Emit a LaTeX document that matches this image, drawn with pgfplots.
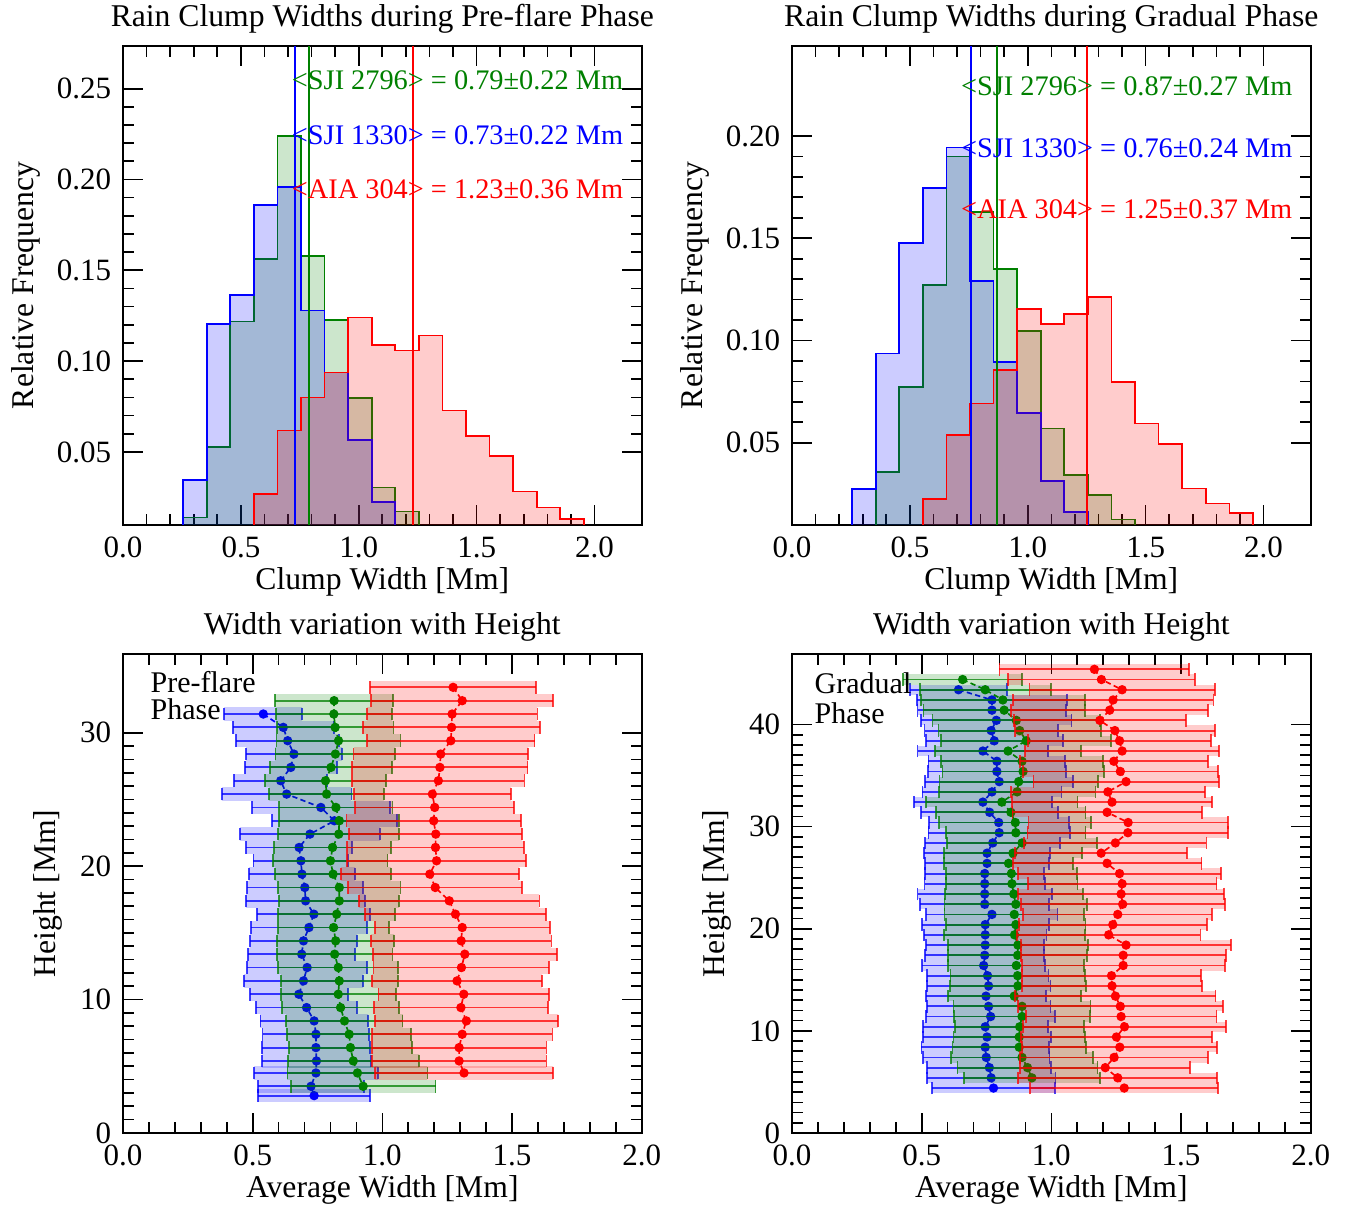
\documentclass[border=0pt]{standalone}
\usepackage{fontspec}
\setmainfont{Liberation Serif}
\usepackage{pgfplots}
\usepackage{pgfplotstable}
\pgfplotsset{compat=1.18}

\definecolor{mgreen}{RGB}{0,128,0}
\definecolor{mblue}{RGB}{0,0,255}
\definecolor{mred}{RGB}{255,0,0}

\newcommand{\lab}{\fontsize{9.5}{11}\selectfont}
\newcommand{\tck}{\fontsize{9.3}{11}\selectfont}
\newcommand{\ann}{\fontsize{8.5}{10}\selectfont}
\newcommand{\phs}{\fontsize{9}{10}\selectfont}

% ---------- Pre-flare profiles ----------
\pgfplotstableread{
h m s
31.4 0.541 0.150
30.4 0.618 0.195
29.4 0.635 0.199
28.4 0.659 0.186
27.4 0.647 0.177
26.4 0.608 0.180
25.4 0.631 0.250
24.4 0.763 0.267
23.4 0.815 0.242
22.4 0.721 0.270
21.4 0.679 0.204
20.4 0.686 0.183
19.4 0.690 0.205
18.4 0.701 0.224
17.4 0.704 0.229
16.4 0.736 0.218
15.4 0.717 0.224
14.4 0.696 0.207
13.4 0.689 0.207
12.4 0.710 0.231
11.4 0.696 0.229
10.4 0.678 0.188
9.4 0.708 0.194
8.4 0.737 0.207
7.4 0.744 0.206
6.4 0.744 0.207
5.4 0.746 0.210
4.5 0.744 0.239
3.5 0.725 0.203
2.8 0.737 0.216
}\PFb
\pgfplotstableread{
h m s
32.4 0.814 0.227
31.4 0.813 0.223
30.4 0.818 0.225
29.4 0.831 0.239
28.4 0.819 0.231
27.4 0.802 0.234
26.4 0.781 0.232
25.4 0.785 0.221
24.4 0.821 0.218
23.4 0.834 0.231
22.4 0.832 0.233
21.4 0.808 0.225
20.4 0.800 0.220
19.4 0.810 0.224
18.4 0.834 0.236
17.4 0.834 0.231
16.4 0.824 0.225
15.4 0.812 0.215
14.4 0.820 0.225
13.4 0.816 0.223
12.4 0.830 0.231
11.4 0.834 0.225
10.4 0.830 0.222
9.4 0.839 0.226
8.4 0.854 0.224
7.4 0.872 0.240
6.4 0.877 0.236
5.4 0.888 0.252
4.5 0.904 0.270
3.5 0.926 0.279
}\PFg
\pgfplotstableread{
h m s
33.4 1.273 0.320
32.4 1.308 0.351
31.4 1.269 0.329
30.4 1.267 0.342
29.4 1.264 0.323
28.4 1.225 0.336
27.4 1.222 0.338
26.4 1.216 0.332
25.4 1.193 0.302
24.4 1.202 0.306
23.4 1.198 0.336
22.4 1.206 0.333
21.4 1.205 0.342
20.4 1.209 0.344
19.4 1.183 0.344
18.4 1.204 0.335
17.4 1.258 0.348
16.4 1.282 0.349
15.4 1.308 0.337
14.4 1.304 0.348
13.4 1.318 0.355
12.4 1.305 0.339
11.4 1.288 0.327
10.4 1.314 0.329
9.4 1.303 0.335
8.4 1.324 0.353
7.4 1.308 0.348
6.4 1.296 0.337
5.4 1.296 0.337
4.5 1.315 0.342
}\PFr

% ---------- Gradual profiles ----------
\pgfplotstableread{
h m s
43.4 0.642 0.187
42.4 0.771 0.290
41.4 0.771 0.287
40.4 0.788 0.290
39.4 0.768 0.257
38.4 0.780 0.264
37.4 0.736 0.252
36.4 0.790 0.264
35.4 0.790 0.266
34.4 0.799 0.286
33.4 0.771 0.268
32.4 0.736 0.265
31.4 0.762 0.264
30.4 0.797 0.270
29.4 0.799 0.273
28.4 0.774 0.260
27.4 0.752 0.242
26.4 0.752 0.238
25.4 0.743 0.229
24.4 0.743 0.232
23.4 0.743 0.259
22.4 0.743 0.248
21.4 0.771 0.253
20.4 0.745 0.245
19.4 0.745 0.236
18.4 0.745 0.228
17.4 0.743 0.230
16.4 0.739 0.237
15.4 0.754 0.235
14.4 0.758 0.239
13.4 0.748 0.232
12.4 0.758 0.239
11.4 0.766 0.248
10.4 0.745 0.241
9.4 0.752 0.246
8.4 0.745 0.246
7.4 0.749 0.244
6.4 0.761 0.239
5.4 0.768 0.248
4.4 0.777 0.238
}\GRb
\pgfplotstableread{
h m s
44.4 0.658 0.230
43.4 0.745 0.253
42.4 0.813 0.317
41.4 0.818 0.311
40.4 0.865 0.323
39.4 0.878 0.313
38.4 0.903 0.328
37.4 0.833 0.281
36.4 0.887 0.313
35.4 0.891 0.311
34.4 0.874 0.305
33.4 0.868 0.302
32.4 0.809 0.292
31.4 0.844 0.288
30.4 0.861 0.293
29.4 0.863 0.269
28.4 0.887 0.290
27.4 0.852 0.266
26.4 0.835 0.250
25.4 0.846 0.253
24.4 0.848 0.253
23.4 0.855 0.266
22.4 0.863 0.275
21.4 0.857 0.269
20.4 0.863 0.269
19.4 0.858 0.271
18.4 0.871 0.269
17.4 0.870 0.267
16.4 0.865 0.262
15.4 0.870 0.259
14.4 0.871 0.263
13.4 0.857 0.256
12.4 0.887 0.264
11.4 0.887 0.263
10.4 0.878 0.248
9.4 0.876 0.253
8.4 0.876 0.257
7.4 0.887 0.273
6.4 0.908 0.270
5.4 0.925 0.263
}\GRg
\pgfplotstableread{
h m s
45.4 1.166 0.366
44.4 1.193 0.360
43.4 1.273 0.357
42.4 1.238 0.387
41.4 1.225 0.379
40.4 1.187 0.331
39.4 1.245 0.385
38.4 1.263 0.354
37.4 1.273 0.375
36.4 1.241 0.362
35.4 1.266 0.376
34.4 1.288 0.357
33.4 1.218 0.375
32.4 1.234 0.385
31.4 1.215 0.365
30.4 1.296 0.384
29.4 1.295 0.387
28.4 1.247 0.351
27.4 1.192 0.331
26.4 1.215 0.364
25.4 1.263 0.391
24.4 1.273 0.364
23.4 1.269 0.396
22.4 1.275 0.393
21.4 1.256 0.364
20.4 1.237 0.362
19.4 1.221 0.354
18.4 1.288 0.405
17.4 1.277 0.395
16.4 1.277 0.391
15.4 1.232 0.344
14.4 1.234 0.347
13.4 1.247 0.386
12.4 1.266 0.396
11.4 1.269 0.368
10.4 1.282 0.390
9.4 1.251 0.369
8.4 1.264 0.376
7.4 1.242 0.362
6.4 1.208 0.328
5.4 1.256 0.384
4.4 1.281 0.362
}\GRr

\pgfplotsset{
  base/.style={
    scale only axis, width=155.6pt, height=143.7pt,
    axis line style={line width=0.6pt, black},
    tick align=inside, xtick pos=both, ytick pos=both,
    major tick length=6pt, minor tick length=3.3pt,
    every tick/.style={black, line width=0.5pt},
    tick label style={font=\tck},
    /pgf/number format/assume math mode=true,
    xticklabel style={/pgf/number format/.cd, fixed, fixed zerofill, precision=1},
    label style={font=\lab},
    every axis title shift=0pt,
    title style={font=\lab, at={(axis description cs:0.5,1.04)}, anchor=base, inner sep=0pt, yshift=0pt},
    xlabel style={at={(axis description cs:0.5,-0.134)}, anchor=base, inner sep=0pt},
    xmin=0, xtick={0,0.5,1,1.5,2}, minor x tick num=4,
    scaled y ticks=false, clip mode=individual,
  },
  hist/.style={base, xmax=2.2, ymin=0.0098, minor y tick num=4,
    yticklabel style={/pgf/number format/.cd, fixed, fixed zerofill, precision=2},
    xlabel={Clump Width [Mm]}, ylabel={Relative Frequency},
    ylabel style={at={(axis description cs:-0.1734,0.5)}, anchor=base, inner sep=0pt}},
  prof/.style={base, xmax=2.0, ymin=0, minor y tick num=9,
    xlabel={Average Width [Mm]}, ylabel={Height [Mm]},
    ylabel style={at={(axis description cs:-0.131,0.5)}, anchor=base, inner sep=0pt}},
  hstep/.style={const plot, line width=0.5pt, draw=#1, fill=#1, fill opacity=0.2},
  vline/.style={#1, line width=0.5pt},
  band/.style 2 args={draw=none, mark=none, forget plot,
    error bars/.cd, x dir=both, x explicit, error mark=none,
    error bar style={draw=#1, line width=#2, draw opacity=0.2, solid}},
  ebar/.style={draw=none, mark=none, forget plot,
    error bars/.cd, x dir=both, x explicit, error mark=|,
    error bar style={draw=#1, solid, line width=0.55pt, draw opacity=0.75},
    error mark options={solid, draw=#1, mark size=1.9pt, line width=0.55pt, draw opacity=0.75}},
  dline/.style={draw=#1, line width=0.5pt, dash pattern=on 1.6pt off 1pt, mark=none, forget plot},
  dots/.style={#1, only marks, mark=*, mark size=1.2pt, mark options={draw=#1, fill=#1, solid}, forget plot},
}

\begin{document}
\begin{tikzpicture}
\useasboundingbox (0,0) rectangle (403.8pt,-362.7pt);

% ================= Top-left =================
\begin{axis}[hist, at={(36.9pt,-157.5pt)}, anchor=south west,
  ymax=0.2735, ytick={0.05,0.10,0.15,0.20,0.25},
  title={Rain Clump Widths during Pre-flare Phase}]
\addplot[hstep=mgreen] coordinates {(0.255,0) (0.255,0.0139) (0.355,0.0527) (0.455,0.1218) (0.555,0.1564) (0.655,0.2238) (0.755,0.1579) (0.855,0.1227) (0.955,0.0796) (1.055,0.0305) (1.155,0.0173) (1.255,0)};
\addplot[hstep=mblue] coordinates {(0.255,0) (0.255,0.0344) (0.355,0.1205) (0.455,0.1364) (0.555,0.1861) (0.655,0.1960) (0.755,0.1278) (0.855,0.0937) (0.955,0.0567) (1.055,0.0223) (1.155,0)};
\addplot[hstep=mred] coordinates {(0.555,0) (0.555,0.0270) (0.655,0.0619) (0.755,0.0800) (0.855,0.0937) (0.955,0.1241) (1.055,0.1089) (1.155,0.1058) (1.255,0.1141) (1.355,0.0729) (1.455,0.0589) (1.555,0.0476) (1.655,0.0283) (1.755,0.0195) (1.855,0.0131) (1.955,0)};
\addplot[vline=mblue] coordinates {(0.73,0.0098) (0.73,0.2735)};
\addplot[vline=mgreen] coordinates {(0.79,0.0098) (0.79,0.2735)};
\addplot[vline=mred] coordinates {(1.23,0.0098) (1.23,0.2735)};
\node[anchor=west, inner sep=0pt, text=mgreen, font=\ann] at (axis cs:0.714,0.2546) {<SJI 2796> = 0.79±0.22 Mm};
\node[anchor=west, inner sep=0pt, text=mblue, font=\ann] at (axis cs:0.714,0.2244) {<SJI 1330> = 0.73±0.22 Mm};
\node[anchor=west, inner sep=0pt, text=mred, font=\ann] at (axis cs:0.714,0.1947) {<AIA 304> = 1.23±0.36 Mm};
\end{axis}

% ================= Top-right =================
\begin{axis}[hist, at={(237.6pt,-157.5pt)}, anchor=south west,
  ymax=0.244, ytick={0.05,0.10,0.15,0.20},
  title={Rain Clump Widths during Gradual Phase}]
\addplot[hstep=mgreen] coordinates {(0.355,0) (0.355,0.0358) (0.455,0.0774) (0.555,0.1271) (0.655,0.1899) (0.755,0.1627) (0.855,0.1350) (0.955,0.1046) (1.055,0.0570) (1.155,0.0342) (1.255,0.0244) (1.355,0.0125) (1.455,0)};
\addplot[hstep=mblue] coordinates {(0.255,0) (0.255,0.0273) (0.355,0.0937) (0.455,0.1477) (0.555,0.1747) (0.655,0.1943) (0.755,0.1291) (0.855,0.0896) (0.955,0.0647) (1.055,0.0313) (1.155,0.0163) (1.255,0)};
\addplot[hstep=mred] coordinates {(0.555,0) (0.555,0.0224) (0.655,0.0538) (0.755,0.0692) (0.855,0.0855) (0.955,0.1155) (1.055,0.1080) (1.155,0.1129) (1.255,0.1214) (1.355,0.0798) (1.455,0.0595) (1.555,0.0494) (1.655,0.0277) (1.755,0.0203) (1.855,0.0158) (1.955,0)};
\addplot[vline=mblue] coordinates {(0.76,0.0098) (0.76,0.244)};
\addplot[vline=mgreen] coordinates {(0.87,0.0098) (0.87,0.244)};
\addplot[vline=mred] coordinates {(1.25,0.0098) (1.25,0.244)};
\node[anchor=west, inner sep=0pt, text=mgreen, font=\ann] at (axis cs:0.715,0.2241) {<SJI 2796> = 0.87±0.27 Mm};
\node[anchor=west, inner sep=0pt, text=mblue, font=\ann] at (axis cs:0.715,0.1940) {<SJI 1330> = 0.76±0.24 Mm};
\node[anchor=west, inner sep=0pt, text=mred, font=\ann] at (axis cs:0.715,0.1642) {<AIA 304> = 1.25±0.37 Mm};
\end{axis}

% ================= Bottom-left =================
\begin{axis}[prof, at={(36.9pt,-339.9pt)}, anchor=south west,
  ymax=35.9, ytick={0,10,20,30},
  title={Width variation with Height}]
\addplot[band={mblue}{4.0pt}] table[x=m, y=h, x error=s] {\PFb};
\addplot[ebar=mblue] table[x=m, y=h, x error=s] {\PFb};
\addplot[dline=mblue] table[x=m, y=h] {\PFb};
\addplot[dots=mblue] table[x=m, y=h] {\PFb};
\addplot[band={mgreen}{4.0pt}] table[x=m, y=h, x error=s] {\PFg};
\addplot[ebar=mgreen] table[x=m, y=h, x error=s] {\PFg};
\addplot[dline=mgreen] table[x=m, y=h] {\PFg};
\addplot[dots=mgreen] table[x=m, y=h] {\PFg};
\addplot[band={mred}{4.0pt}] table[x=m, y=h, x error=s] {\PFr};
\addplot[ebar=mred] table[x=m, y=h, x error=s] {\PFr};
\addplot[dline=mred] table[x=m, y=h] {\PFr};
\addplot[dots=mred] table[x=m, y=h] {\PFr};
\node[anchor=base west, inner sep=0pt, font=\phs] at (axis description cs:0.052,0.9205) {Pre-flare};
\node[anchor=base west, inner sep=0pt, font=\phs] at (axis description cs:0.052,0.864) {Phase};
\end{axis}

% ================= Bottom-right =================
\begin{axis}[prof, at={(237.6pt,-339.9pt)}, anchor=south west,
  ymax=46.9, ytick={0,10,20,30,40},
  title={Width variation with Height}]
\addplot[band={mblue}{3.06pt}] table[x=m, y=h, x error=s] {\GRb};
\addplot[ebar=mblue] table[x=m, y=h, x error=s] {\GRb};
\addplot[dline=mblue] table[x=m, y=h] {\GRb};
\addplot[dots=mblue] table[x=m, y=h] {\GRb};
\addplot[band={mgreen}{3.06pt}] table[x=m, y=h, x error=s] {\GRg};
\addplot[ebar=mgreen] table[x=m, y=h, x error=s] {\GRg};
\addplot[dline=mgreen] table[x=m, y=h] {\GRg};
\addplot[dots=mgreen] table[x=m, y=h] {\GRg};
\addplot[band={mred}{3.06pt}] table[x=m, y=h, x error=s] {\GRr};
\addplot[ebar=mred] table[x=m, y=h, x error=s] {\GRr};
\addplot[dline=mred] table[x=m, y=h] {\GRr};
\addplot[dots=mred] table[x=m, y=h] {\GRr};
\node[anchor=base west, inner sep=0pt, font=\phs] at (axis description cs:0.0425,0.918) {Gradual};
\node[anchor=base west, inner sep=0pt, font=\phs] at (axis description cs:0.0425,0.854) {Phase};
\end{axis}
\end{tikzpicture}
\end{document}
